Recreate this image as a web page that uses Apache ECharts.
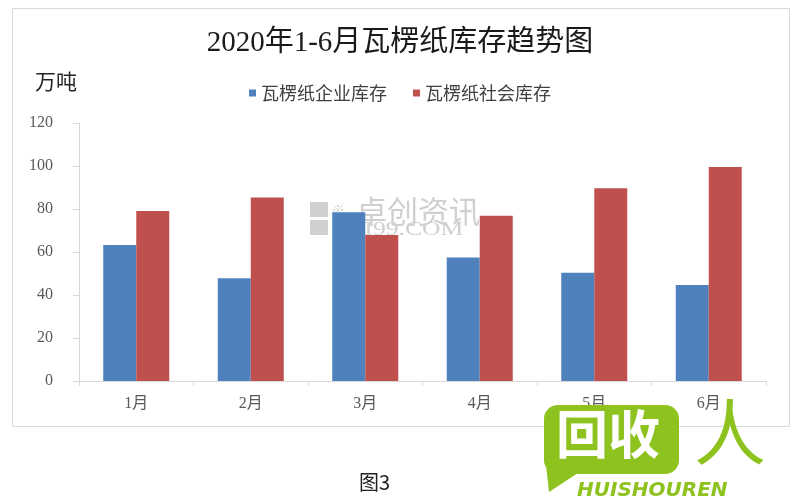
<!DOCTYPE html>
<html>
<head>
<meta charset="utf-8">
<style>html,body{margin:0;padding:0;background:#fff;}#chart{width:800px;height:500px;}</style>
<script src="https://cdn.jsdelivr.net/npm/echarts@6/dist/echarts.min.js"></script>
</head>
<body>
<div id="chart"></div>
<script>
var categories = ['1月', '2月', '3月', '4月', '5月', '6月'];
var enterpriseStock = [63.3, 47.8, 78.5, 57.5, 50.4, 44.7];
var socialStock = [79.1, 85.3, 67.9, 76.9, 89.6, 99.5];
var seriesNames = ['瓦楞纸企业库存', '瓦楞纸社会库存'];
var titleText = '2020年1-6月瓦楞纸库存趋势图';
var unitText = '万吨';

var CJK = '"Liberation Serif", "Noto Sans CJK SC", serif';
var green = '#8dc21f';

var chart = echarts.init(document.getElementById('chart'), null, {renderer: 'canvas'});
chart.setOption({
  backgroundColor: '#ffffff',
  animation: false,
  title: {
    text: titleText,
    left: 'center',
    top: 24,
    textStyle: {fontSize: 29, fontWeight: 'normal', color: '#1a1a1a', fontFamily: CJK}
  },
  legend: {
    data: seriesNames,
    top: 79,
    left: 'center',
    icon: 'rect',
    itemWidth: 7,
    itemHeight: 7,
    itemGap: 26,
    textStyle: {fontSize: 18, color: '#404040', fontFamily: '"Noto Sans CJK SC", sans-serif'}
  },
  grid: {left: 79, right: 34, top: 123, bottom: 119, containLabel: false},
  xAxis: {
    type: 'category',
    data: categories,
    boundaryGap: true,
    axisLine: {lineStyle: {color: '#d9d9d9', width: 1}},
    axisTick: {show: true, length: 5, alignWithLabel: false, lineStyle: {color: '#d9d9d9'}},
    axisLabel: {margin: 15, fontSize: 16, color: '#595959', fontFamily: CJK}
  },
  yAxis: {
    type: 'value',
    min: 0, max: 120, interval: 20,
    axisLine: {show: true, lineStyle: {color: '#d9d9d9', width: 1}},
    axisTick: {show: true, length: 6, lineStyle: {color: '#d9d9d9'}},
    splitLine: {show: false},
    axisLabel: {margin: 26, fontSize: 16, color: '#595959', fontFamily: '"Liberation Serif", serif'}
  },
  series: [
    {name: seriesNames[0], type: 'bar', data: enterpriseStock, barWidth: 33, barGap: '0%',
     itemStyle: {color: '#4f81bd'}, z: 3},
    {name: seriesNames[1], type: 'bar', data: socialStock, barWidth: 33, barGap: '0%',
     itemStyle: {color: '#c0504d'}, z: 3}
  ],
  graphic: [
    {type: 'rect', z: -10, shape: {x: 12.5, y: 8.5, width: 777, height: 418},
     style: {fill: null, stroke: '#d9d9d9', lineWidth: 1}},
    {type: 'text', z: 1, left: 35, top: 71,
     style: {text: unitText, fontSize: 21, fill: '#262626', fontFamily: '"Noto Sans CJK SC", sans-serif'}},
    // watermark
    {type: 'rect', z: 0, shape: {x: 310, y: 202, width: 18, height: 15}, style: {fill: '#cfcfcf'}},
    {type: 'rect', z: 0, shape: {x: 310, y: 220, width: 18, height: 15}, style: {fill: '#cfcfcf'}},
    {type: 'text', z: 0, x: 331, y: 203,
     style: {text: '※', fontSize: 14, fill: '#d0d0d0', fontFamily: '"Noto Sans CJK SC", sans-serif'}},
    {type: 'text', z: 0, x: 356, y: 196,
     style: {text: '卓创资讯', fontSize: 31, fill: '#d0d0d0', fontFamily: '"Noto Sans CJK SC", sans-serif'}},
    {type: 'text', z: 0, x: 333, y: 221, scaleX: 1.35,
     style: {text: 'SCI99.COM', fontSize: 19, fill: '#d0d0d0', fontFamily: '"Liberation Serif", serif'}},
    // figure caption
    {type: 'text', z: 5, x: 359, y: 472,
     style: {text: '图3', fontSize: 20, fill: '#222222', fontFamily: '"Noto Sans CJK SC", sans-serif'}},
    // logo
    {type: 'rect', z: 10, shape: {x: 544, y: 405, width: 135, height: 69, r: 14}, style: {fill: green}},
    {type: 'polygon', z: 10, shape: {points: [[545, 455], [578, 473], [549, 492]]}, style: {fill: green}},
    {type: 'text', z: 11, x: 556, y: 408,
     style: {text: '回收', fontSize: 52, fontWeight: 'bold', fill: '#ffffff', fontFamily: '"Noto Sans CJK SC", sans-serif'}},
    {type: 'text', z: 11, x: 694, y: 396,
     style: {text: '人', fontSize: 72, fontWeight: 'normal', fill: green, fontFamily: '"Noto Sans CJK SC", sans-serif'}},
    {type: 'text', z: 11, x: 577, y: 481,
     style: {text: 'HUISHOUREN', fontSize: 20, fontWeight: 'bold', fontStyle: 'italic', fill: green, fontFamily: '"DejaVu Sans", sans-serif'}}
  ]
});
</script>
</body>
</html>
